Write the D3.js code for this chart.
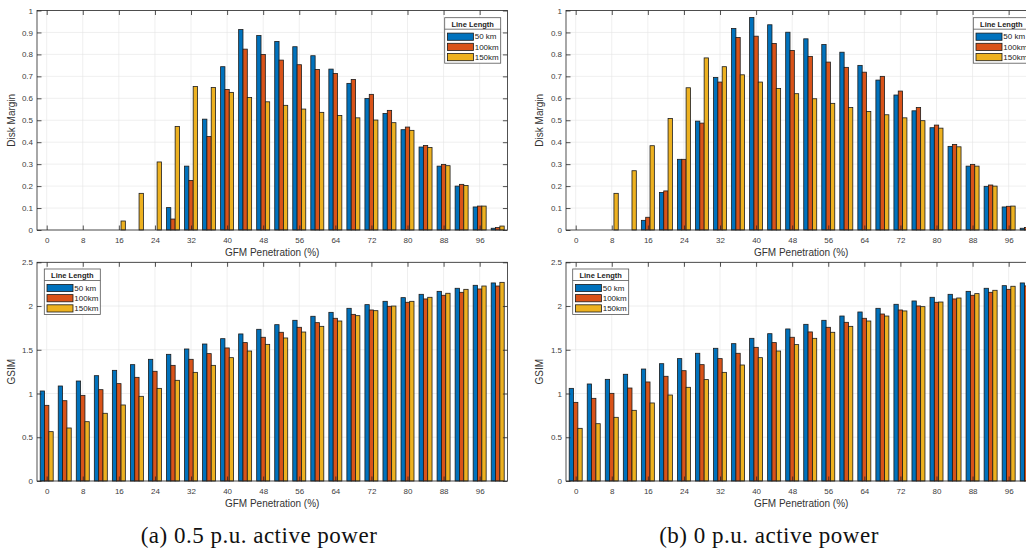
<!DOCTYPE html>
<html><head><meta charset="utf-8">
<script src="https://cdn.jsdelivr.net/npm/d3@7"></script>
<style>body{margin:0;background:#fff}svg{display:block}</style>
</head><body>
<svg id="chart" width="1026" height="549"></svg>
<script>
// ---- data ----
const penetration = [0,4,8,12,16,20,24,28,32,36,40,44,48,52,56,60,64,68,72,76,80,84,88,92,96,100];
const xTickValues = [0,8,16,24,32,40,48,56,64,72,80,88,96];
const dmTickValues = [0,0.1,0.2,0.3,0.4,0.5,0.6,0.7,0.8,0.9,1];
const gsimTickValues = [0,0.5,1,1.5,2,2.5];
const seriesNames = ["50 km","100km","150km"];
const seriesColors = ["#0072BD","#D95319","#EDB120"];

// (a) 0.5 p.u. active power — Disk Margin
const dmA_50  = [0,0,0,0,0,0,0,0.102,0.291,0.505,0.744,0.913,0.886,0.859,0.835,0.794,0.733,0.668,0.599,0.531,0.457,0.378,0.291,0.200,0.105,0.008];
const dmA_100 = [0,0,0,0,0,0,0,0.050,0.226,0.426,0.640,0.824,0.800,0.774,0.753,0.731,0.713,0.686,0.618,0.545,0.469,0.385,0.299,0.208,0.109,0.011];
const dmA_150 = [0,0,0,0,0.041,0.167,0.310,0.472,0.654,0.649,0.627,0.604,0.584,0.568,0.551,0.536,0.522,0.511,0.501,0.489,0.454,0.376,0.293,0.203,0.109,0.018];
// (a) GSIM
const gsimA_50  = [1.029,1.086,1.143,1.204,1.265,1.330,1.391,1.448,1.509,1.566,1.627,1.681,1.734,1.787,1.837,1.883,1.928,1.974,2.016,2.054,2.096,2.134,2.168,2.203,2.237,2.264];
const gsimA_100 = [0.865,0.918,0.979,1.044,1.113,1.185,1.254,1.322,1.391,1.456,1.521,1.582,1.643,1.700,1.757,1.810,1.860,1.905,1.955,1.997,2.043,2.081,2.123,2.157,2.195,2.229];
const gsimA_150 = [0.564,0.606,0.678,0.774,0.869,0.968,1.059,1.151,1.242,1.322,1.410,1.486,1.562,1.635,1.703,1.768,1.829,1.890,1.947,2.000,2.054,2.100,2.146,2.191,2.229,2.271];
// (b) 0 p.u. active power — Disk Margin
const dmB_50  = [0,0,0,0,0.044,0.171,0.322,0.496,0.695,0.918,0.968,0.935,0.901,0.871,0.845,0.810,0.750,0.683,0.615,0.543,0.466,0.381,0.291,0.199,0.105,0.008];
const dmB_100 = [0,0,0,0,0.058,0.178,0.322,0.487,0.674,0.877,0.883,0.850,0.818,0.791,0.765,0.741,0.719,0.700,0.633,0.558,0.478,0.390,0.299,0.205,0.108,0.011];
const dmB_150 = [0,0,0.167,0.270,0.384,0.508,0.648,0.784,0.744,0.707,0.674,0.645,0.621,0.598,0.577,0.558,0.540,0.525,0.511,0.498,0.464,0.379,0.291,0.200,0.109,0.017];
// (b) GSIM
const gsimB_50  = [1.059,1.109,1.162,1.220,1.280,1.341,1.399,1.460,1.517,1.570,1.631,1.684,1.738,1.791,1.837,1.886,1.932,1.974,2.020,2.058,2.100,2.134,2.168,2.203,2.233,2.264];
const gsimB_100 = [0.899,0.945,1.002,1.063,1.132,1.197,1.261,1.330,1.399,1.460,1.528,1.582,1.643,1.704,1.757,1.814,1.860,1.909,1.955,2.001,2.043,2.081,2.123,2.157,2.191,2.230];
const gsimB_150 = [0.602,0.655,0.728,0.808,0.892,0.983,1.071,1.159,1.242,1.326,1.410,1.486,1.559,1.631,1.700,1.768,1.829,1.886,1.944,1.993,2.046,2.092,2.142,2.180,2.226,2.270];

// ---- layout ----
const panels = [
  {left:37,  top:10.5,  bottom:230, yMax:1,   ticks:dmTickValues,   ylabel:"Disk Margin", series:[dmA_50,dmA_100,dmA_150],   legend:[444.7,17.7], ylabX:15},
  {left:37,  top:262.3, bottom:481, yMax:2.5, ticks:gsimTickValues, ylabel:"GSIM",        series:[gsimA_50,gsimA_100,gsimA_150], legend:[44.3,269], ylabX:15},
  {left:566, top:10.5,  bottom:230, yMax:1,   ticks:dmTickValues,   ylabel:"Disk Margin", series:[dmB_50,dmB_100,dmB_150],   legend:[973.3,17.7], ylabX:543},
  {left:566, top:262.3, bottom:481, yMax:2.5, ticks:gsimTickValues, ylabel:"GSIM",        series:[gsimB_50,gsimB_100,gsimB_150], legend:[572.7,269], ylabX:543}
];
const plotW = 470.4;
const axisColor = "#262626";
const font = "'Liberation Sans', Arial, sans-serif";

const svg = d3.select("#chart");
svg.append("rect").attr("width",1026).attr("height",549).attr("fill","#fff");

panels.forEach(p => {
  const g = svg.append("g");
  const x = d3.scaleLinear().domain([-2.15,102.15]).range([p.left, p.left+plotW]);
  const y = d3.scaleLinear().domain([0,p.yMax]).range([p.bottom, p.top]);
  const right = p.left + plotW;

  // grid
  g.selectAll(".gx").data(xTickValues).join("line")
    .attr("x1",d=>x(d)).attr("x2",d=>x(d)).attr("y1",p.top).attr("y2",p.bottom)
    .attr("stroke","#e4e4e4").attr("stroke-width",0.6);
  g.selectAll(".gy").data(p.ticks).join("line")
    .attr("x1",p.left).attr("x2",right).attr("y1",d=>y(d)).attr("y2",d=>y(d))
    .attr("stroke","#e4e4e4").attr("stroke-width",0.6);

  // bars
  const bw = 0.96;
  p.series.forEach((vals, si) => {
    g.selectAll(".b"+si).data(penetration).join("rect")
      .attr("x", (d)=> x(d + (si-1)*bw - bw/2))
      .attr("width", x(bw)-x(0))
      .attr("y", (d,i)=> y(vals[i]))
      .attr("height", (d,i)=> y(0)-y(vals[i]))
      .attr("fill", seriesColors[si])
      .attr("stroke", "#1c1c1c").attr("stroke-width", 0.8);
  });

  // box
  g.append("rect").attr("x",p.left).attr("y",p.top).attr("width",plotW).attr("height",p.bottom-p.top)
    .attr("fill","none").attr("stroke",axisColor).attr("stroke-width",0.8);

  // x axis (bottom) & top ticks
  const xAxis = d3.axisBottom(x).tickValues(xTickValues).tickSize(-4.5).tickPadding(7).tickFormat(d3.format("d"));
  const xa = g.append("g").attr("transform",`translate(0,${p.bottom})`).call(xAxis);
  const xt = d3.axisTop(x).tickValues(xTickValues).tickSize(-4.5).tickFormat("");
  const xta = g.append("g").attr("transform",`translate(0,${p.top})`).call(xt);
  // y axis (left) & right ticks
  const yAxis = d3.axisLeft(y).tickValues(p.ticks).tickSize(-4.5).tickPadding(4).tickFormat(d=>String(+d.toFixed(2)));
  const ya = g.append("g").attr("transform",`translate(${p.left},0)`).call(yAxis);
  const yr = d3.axisRight(y).tickValues(p.ticks).tickSize(-4.5).tickFormat("");
  const yra = g.append("g").attr("transform",`translate(${right},0)`).call(yr);
  [xa,xta,ya,yra].forEach(a=>{
    a.select(".domain").remove();
    a.selectAll(".tick line").attr("stroke",axisColor).attr("stroke-width",0.8);
    a.selectAll(".tick text").attr("fill","#404040").attr("font-family",font).attr("font-size","8px");
  });

  // axis labels
  g.append("text").attr("x",(p.left+right)/2).attr("y",p.bottom+26)
    .attr("text-anchor","middle").attr("font-family",font).attr("font-size","10px").attr("fill","#333")
    .text("GFM Penetration (%)");
  g.append("text").attr("transform",`translate(${p.ylabX},${(p.top+p.bottom)/2}) rotate(-90)`)
    .attr("text-anchor","middle").attr("font-family",font).attr("font-size","10px").attr("fill","#333")
    .text(p.ylabel);

  // legend
  const [lx,ly] = p.legend;
  const lg = g.append("g").attr("transform",`translate(${lx},${ly})`);
  lg.append("rect").attr("width",56).attr("height",45.5).attr("fill","#fff")
    .attr("stroke","#555").attr("stroke-width",0.8);
  lg.append("line").attr("x1",0).attr("x2",56).attr("y1",11.5).attr("y2",11.5).attr("stroke","#555").attr("stroke-width",0.8);
  lg.append("text").attr("x",28).attr("y",9).attr("text-anchor","middle").attr("font-family",font)
    .attr("font-weight","bold").attr("font-size","7.5px").attr("fill","#222").text("Line Length");
  seriesNames.forEach((n,i)=>{
    const cy = 19 + i*10.2;
    lg.append("rect").attr("x",2.7).attr("y",cy-3.6).attr("width",26).attr("height",7.2)
      .attr("fill",seriesColors[i]).attr("stroke","#1c1c1c").attr("stroke-width",0.8);
    lg.append("text").attr("x",30).attr("y",cy+2.8).attr("font-family",font).attr("font-size","8px")
      .attr("fill","#222").text(n);
  });
});

// captions
const captions = [["(a) 0.5 p.u. active power",259],["(b) 0 p.u. active power",769]];
svg.selectAll(".cap").data(captions).join("text")
  .attr("x",d=>d[1]).attr("y",543).attr("text-anchor","middle")
  .attr("font-family","'Liberation Serif','Times New Roman',serif").attr("font-size","23px")
  .attr("letter-spacing","0.5px").attr("fill","#111")
  .text(d=>d[0]);
</script>
</body></html>
